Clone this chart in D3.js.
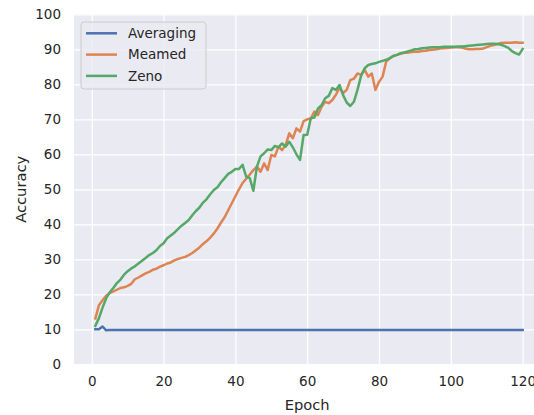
<!DOCTYPE html>
<html>
<head>
<meta charset="utf-8">
<script src="https://cdn.jsdelivr.net/npm/d3@7"></script>
<style>
    body { margin: 0; background: #ffffff; }
    .chart text { font-family: "DejaVu Sans", sans-serif; fill: #262626; }
</style>
</head>
<body>
<div class="chart"></div>
<script>

// Data (accuracy per epoch, epochs 1..120)
var epochs = d3.range(1, 121);

var averaging = [
    10.0, 10.0, 10.8, 9.7, 9.8, 9.8, 9.8, 9.8, 9.8, 9.8,
    9.8, 9.8, 9.8, 9.8, 9.8, 9.8, 9.8, 9.8, 9.8, 9.8,
    9.8, 9.8, 9.8, 9.8, 9.8, 9.8, 9.8, 9.8, 9.8, 9.8,
    9.8, 9.8, 9.8, 9.8, 9.8, 9.8, 9.8, 9.8, 9.8, 9.8,
    9.8, 9.8, 9.8, 9.8, 9.8, 9.8, 9.8, 9.8, 9.8, 9.8,
    9.8, 9.8, 9.8, 9.8, 9.8, 9.8, 9.8, 9.8, 9.8, 9.8,
    9.8, 9.8, 9.8, 9.8, 9.8, 9.8, 9.8, 9.8, 9.8, 9.8,
    9.8, 9.8, 9.8, 9.8, 9.8, 9.8, 9.8, 9.8, 9.8, 9.8,
    9.8, 9.8, 9.8, 9.8, 9.8, 9.8, 9.8, 9.8, 9.8, 9.8,
    9.8, 9.8, 9.8, 9.8, 9.8, 9.8, 9.8, 9.8, 9.8, 9.8,
    9.8, 9.8, 9.8, 9.8, 9.8, 9.8, 9.8, 9.8, 9.8, 9.8,
    9.8, 9.8, 9.8, 9.8, 9.8, 9.8, 9.8, 9.8, 9.8, 9.8
];

var meamed = [
    13.1, 16.9, 18.3, 19.6, 20.3, 20.8, 21.3, 21.8, 22.0, 22.4,
    23.0, 24.3, 24.8, 25.4, 26.0, 26.4, 27.0, 27.3, 27.9, 28.3,
    28.8, 29.1, 29.7, 30.1, 30.4, 30.7, 31.2, 31.8, 32.6, 33.4,
    34.4, 35.2, 36.2, 37.4, 38.8, 40.5, 42.0, 44.0, 46.0, 48.0,
    50.0, 51.8, 53.0, 54.2, 55.5, 56.5, 55.0, 57.4, 55.5, 59.8,
    59.4, 62.2, 61.2, 62.7, 66.0, 64.6, 67.4, 66.5, 69.5, 70.0,
    70.2, 72.2, 71.2, 73.6, 75.0, 74.6, 75.5, 77.0, 79.0, 77.5,
    78.4, 81.2, 81.6, 83.1, 82.7, 84.1, 82.2, 83.1, 78.4, 80.7,
    82.2, 86.5, 87.4, 88.1, 88.4, 88.7, 89.0, 89.0, 89.2, 89.3,
    89.3, 89.5, 89.6, 89.8, 89.9, 90.0, 90.2, 90.3, 90.4, 90.5,
    90.6, 90.6, 90.5, 90.2, 90.0, 90.0, 90.1, 90.1, 90.2, 90.6,
    91.0, 91.2, 91.5, 91.8, 91.9, 91.9, 91.9, 92.0, 91.9, 91.9
];

var zeno = [
    11.0, 13.2, 16.2, 18.8, 20.6, 21.8, 23.2, 24.2, 25.6, 26.6,
    27.4, 28.0, 28.8, 29.6, 30.4, 31.2, 31.8, 32.6, 33.8, 34.6,
    36.0, 36.8, 37.6, 38.6, 39.6, 40.4, 41.2, 42.6, 43.8, 44.8,
    46.2, 47.2, 48.6, 49.8, 50.6, 52.0, 53.2, 54.4, 55.0, 55.8,
    55.8, 57.0, 53.6, 53.2, 49.6, 56.5, 59.4, 60.3, 61.4, 61.2,
    62.4, 62.0, 63.1, 62.2, 63.6, 62.0, 60.0, 58.4, 65.5, 65.6,
    70.3, 70.5, 73.1, 74.0, 76.0, 76.7, 78.9, 78.4, 79.8, 76.9,
    74.8, 73.8, 75.0, 78.4, 82.4, 84.6, 85.5, 85.8, 86.0, 86.4,
    86.7, 87.0, 87.5, 88.1, 88.4, 88.9, 89.1, 89.4, 89.7, 90.0,
    90.1, 90.3, 90.4, 90.5, 90.6, 90.6, 90.6, 90.7, 90.7, 90.7,
    90.7, 90.8, 90.8, 90.9, 91.0, 91.1, 91.2, 91.3, 91.4, 91.5,
    91.6, 91.6, 91.5, 91.3, 90.9, 90.4, 89.5, 88.9, 88.5, 90.1
];

var seriesNames = ["Averaging", "Meamed", "Zeno"];
var seriesColors = ["#4c72b0", "#dd8452", "#55a868"];
var xTicks = [0, 20, 40, 60, 80, 100, 120];
var yTicks = [0, 10, 20, 30, 40, 50, 60, 70, 80, 90, 100];

var svgWidth = 534;
var svgHeight = 415;

var margin = {
    top: 14.3,
    right: -10,
    bottom: 50.7,
    left: 74
};

var width = svgWidth - margin.left - margin.right;
var height = svgHeight - margin.top - margin.bottom;

var svg = d3.select(".chart")
    .append("svg")
    .attr("width", svgWidth)
    .attr("height", svgHeight)
    .style("display", "block");

var chartGroup = svg.append("g")
    .attr("transform", `translate(${margin.left}, ${margin.top})`);

// Step 1: scales (matplotlib style 5% margin on x)
// ==============================
var xLinearScale = d3.scaleLinear()
    .domain([1 - 0.05 * 119, 120 + 0.05 * 119])
    .range([0, width]);

var yLinearScale = d3.scaleLinear()
    .domain([0, 100])
    .range([height, 0]);

// Step 2: background + grid
// ==============================
chartGroup.append("rect")
    .attr("width", width)
    .attr("height", height)
    .attr("fill", "#eaeaf2");

var bottomAxis = d3.axisBottom(xLinearScale)
    .tickValues(xTicks)
    .tickSize(-height)
    .tickPadding(12);

var leftAxis = d3.axisLeft(yLinearScale)
    .tickValues(yTicks)
    .tickSize(-width)
    .tickPadding(13);

var xAxisG = chartGroup.append("g")
    .attr("transform", `translate(0, ${height})`)
    .call(bottomAxis);

var yAxisG = chartGroup.append("g")
    .call(leftAxis);

[xAxisG, yAxisG].forEach(function(g) {
    g.select(".domain").remove();
    g.selectAll(".tick line")
        .attr("stroke", "#ffffff")
        .attr("stroke-width", 1.2);
    g.selectAll(".tick text")
        .attr("font-size", "13.5px")
        .attr("font-family", "DejaVu Sans");
});

// Step 3: lines
// ==============================
var allSeries = [averaging, meamed, zeno];

var lineGen = d3.line()
    .x((d, i) => xLinearScale(epochs[i]))
    .y(d => yLinearScale(d));

chartGroup.selectAll(".series")
    .data(allSeries)
    .enter()
    .append("path")
    .attr("class", "series")
    .attr("d", d => lineGen(d))
    .attr("fill", "none")
    .attr("stroke", (d, i) => seriesColors[i])
    .attr("stroke-width", 2.5)
    .attr("stroke-linejoin", "round")
    .attr("stroke-linecap", "square");

// Step 4: legend
// ==============================
var legend = svg.append("g")
    .attr("transform", "translate(81, 22)");

legend.append("rect")
    .attr("width", 125)
    .attr("height", 67)
    .attr("rx", 3)
    .attr("fill", "#eaeaf2")
    .attr("fill-opacity", 0.8)
    .attr("stroke", "#cccccc")
    .attr("stroke-width", 1);

var legendItems = legend.selectAll(".item")
    .data(seriesNames)
    .enter()
    .append("g")
    .attr("class", "item")
    .attr("transform", (d, i) => `translate(0, ${11.3 + i * 21.3})`);

legendItems.append("line")
    .attr("x1", 5)
    .attr("x2", 36)
    .attr("stroke", (d, i) => seriesColors[i])
    .attr("stroke-width", 2.5);

legendItems.append("text")
    .attr("x", 47)
    .attr("dy", "0.35em")
    .attr("font-size", "13.5px")
    .text(d => d);

// Step 5: axis labels
// ==============================
svg.append("text")
    .attr("transform", `translate(26, ${margin.top + height / 2}) rotate(-90)`)
    .attr("text-anchor", "middle")
    .attr("font-size", "14.7px")
    .text("Accuracy");

svg.append("text")
    .attr("x", margin.left + xLinearScale(60))
    .attr("y", 410)
    .attr("text-anchor", "middle")
    .attr("font-size", "14.7px")
    .text("Epoch");

</script>
</body>
</html>
